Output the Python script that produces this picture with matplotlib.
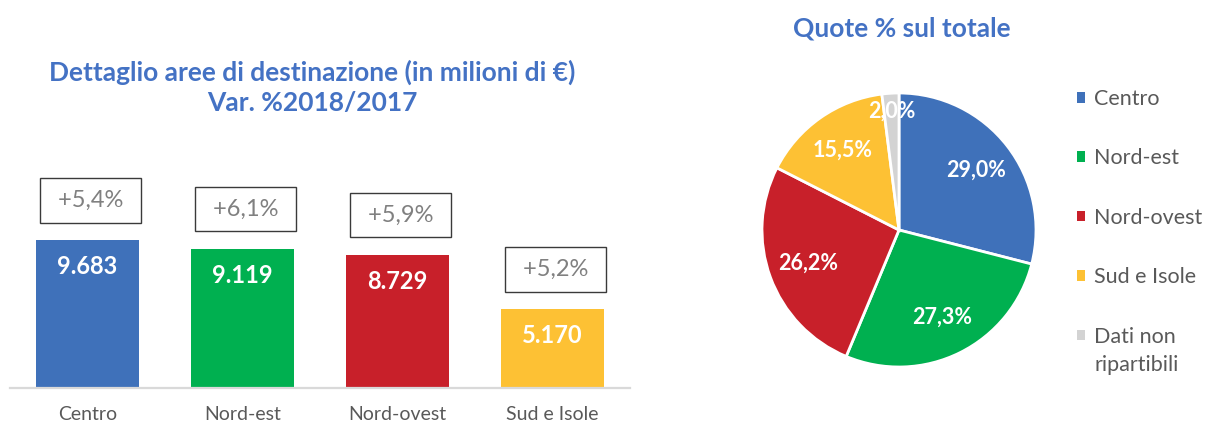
import matplotlib
matplotlib.use('Agg')
import matplotlib.pyplot as plt
from matplotlib.patches import Patch
import numpy as np

plt.rcParams['font.family'] = ['Lato', 'DejaVu Sans']

# bar chart data
areas = ['Centro', 'Nord-est', 'Nord-ovest', 'Sud e Isole']
values = [9683, 9119, 8729, 5170]
value_labels = ['9.683', '9.119', '8.729', '5.170']
var_labels = ['+5,4%', '+6,1%', '+5,9%', '+5,2%']

# pie data
pie_labels = ['Centro', 'Nord-est', 'Nord-ovest', 'Sud e Isole', 'Dati non\nripartibili']
shares = [29.0, 27.3, 26.2, 15.5, 2.0]

COLORS = ['#3F71BA', '#00B050', '#C8202A', '#FDC134', '#D3D3D3']
TITLE_COLOR = '#4472C4'
TEXT_COLOR = '#595959'

W, H = 1205, 423
fig = plt.figure(figsize=(W / 100, H / 100), dpi=100)

# ---- bar chart ----
ax = fig.add_axes([10 / W, 35 / H, 620 / W, 228 / H])
x = range(len(areas))
ax.bar(x, values, width=0.67, color=COLORS[:4], zorder=2)
ax.set_xlim(-0.5, len(areas) - 0.5)
ax.set_ylim(0, 14920)
for s in ['top', 'left', 'right']:
    ax.spines[s].set_visible(False)
ax.spines['bottom'].set_color('#D9D9D9')
ax.spines['bottom'].set_linewidth(1.6)
ax.set_yticks([])
ax.set_xticks(list(x))
ax.set_xticklabels(areas, fontsize=14, color=TEXT_COLOR)
ax.tick_params(axis='x', length=0, pad=13)

for i, (v, vl, pl) in enumerate(zip(values, value_labels, var_labels)):
    ax.annotate(vl, (i, v), xytext=(0, -11), textcoords='offset points',
                ha='center', va='top', color='white', fontsize=17, fontweight='bold')
    ax.annotate(' ' + pl + ' ', (i + 0.02, v), xytext=(0, 21), textcoords='offset points',
                ha='center', va='bottom', color='#808080', fontsize=17,
                bbox=dict(boxstyle='square,pad=0.5', facecolor='white',
                          edgecolor='#3A3A3A', linewidth=1))

fig.text(312 / W, 1 - 72 / H, 'Dettaglio aree di destinazione (in milioni di €)',
         ha='center', va='center', fontsize=19, fontweight='bold', color=TITLE_COLOR)
fig.text(312 / W, 1 - 103 / H, 'Var. %2018/2017',
         ha='center', va='center', fontsize=19, fontweight='bold', color=TITLE_COLOR)

# ---- pie chart ----
pax = fig.add_axes([762 / W, 56 / H, 274 / W, 274 / H])
wedges, _, autotexts = pax.pie(shares, colors=COLORS, startangle=90, counterclock=False,
                               autopct=lambda p: '{:.1f}%'.format(p).replace('.', ','),
                               pctdistance=0.71,
                               wedgeprops=dict(edgecolor='white', linewidth=2),
                               textprops=dict(color='white', fontsize=15.5, fontweight='bold'))
# small slice label sits further out
w = wedges[-1]
mid = np.deg2rad((w.theta1 + w.theta2) / 2)
autotexts[-1].set_position((0.87 * np.cos(mid), 0.87 * np.sin(mid)))
pax.set_xlim(-1, 1)
pax.set_ylim(-1, 1)

fig.text(902 / W, 1 - 28 / H, 'Quote % sul totale', ha='center', va='center',
         fontsize=19, fontweight='bold', color=TITLE_COLOR)

# legend: first line of each label next to the square, extra lines below
first_lines = [lab.split('\n')[0] for lab in pie_labels]
handles = [Patch(facecolor=c, edgecolor='none') for c in COLORS]
leg = fig.legend(handles, first_lines, loc='upper left', bbox_to_anchor=(1077 / W, 1 - 89 / H),
                 frameon=False, fontsize=15.5, labelcolor=TEXT_COLOR,
                 handlelength=0.38, handleheight=0.38, handletextpad=0.42, labelspacing=1.83,
                 borderaxespad=0, borderpad=0)
fig.canvas.draw()
for lab, t in zip(pie_labels, leg.get_texts()):
    rest = lab.split('\n')[1:]
    if rest:
        bb = t.get_window_extent()
        fig.text(bb.x0, bb.y0 - 28, '\n'.join(rest), transform=None,
                 ha='left', va='bottom', fontsize=15.5, color=TEXT_COLOR)

fig.savefig('out.png', dpi=100)
